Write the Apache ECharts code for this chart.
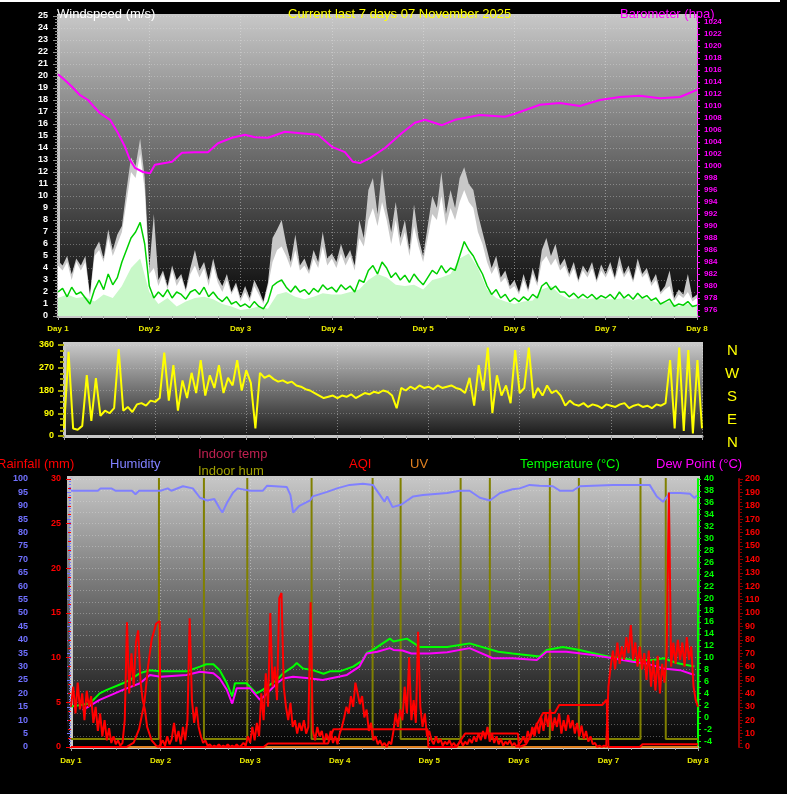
<!DOCTYPE html>
<html><head><meta charset="utf-8">
<script src="https://cdn.jsdelivr.net/npm/echarts@6/dist/echarts.min.js"></script>
<style>html,body{margin:0;padding:0;background:#000;overflow:hidden}#c{width:787px;height:794px}</style>
</head><body><div id="c"></div><script>
// ---- data (x = days since Day 1) ----
const STEP = 0.05; // wind & direction samples
const windGust = [
4.6,4.2,5.0,3.5,4.8,4.2,5.0,1.8,5.5,6.2,4.8,7.2,5.5,6.8,7.5,10.5,13.2,12.5,14.8,11.5,4.0,
8.5,3.0,3.8,2.5,4.2,3.0,3.5,2.2,4.0,5.5,3.8,4.5,3.0,4.8,3.2,2.5,3.5,2.0,2.8,1.5,
2.5,1.5,3.0,2.2,1.2,2.8,6.5,7.2,8.0,6.0,4.5,6.8,4.2,4.8,3.8,5.5,4.5,7.0,4.8,5.2,
4.5,6.0,4.8,5.5,4.2,8.0,6.5,10.5,11.5,8.5,12.3,9.0,7.0,9.5,6.5,8.0,5.5,9.3,6.5,5.0,
7.5,10.0,9.0,12.0,8.5,10.5,9.0,11.5,12.4,11.0,10.5,8.5,7.0,5.5,4.0,5.0,3.2,3.8,2.5,3.0,
2.0,3.5,2.2,4.0,2.8,5.5,6.5,5.0,6.0,4.2,4.8,3.5,4.5,3.0,4.2,3.6,4.5,3.0,4.3,3.5,
4.5,3.2,5.0,3.5,4.2,3.0,4.8,3.5,4.0,2.8,3.5,2.0,2.5,3.8,1.5,2.2,1.8,3.5,1.5,1.8];
const windWhite = [
4.2,3.8,4.5,3.0,4.5,3.8,4.5,1.5,5.0,5.5,4.5,6.5,5.0,6.0,7.0,9.5,12.0,11.5,13.5,10.5,3.5,
4.0,2.5,3.5,2.2,3.8,2.5,3.2,2.0,3.5,4.2,3.2,4.0,2.5,4.2,2.8,2.0,3.0,1.8,2.5,1.2,
2.0,1.2,2.5,1.8,1.0,2.5,4.5,5.5,5.8,5.0,4.0,5.5,3.8,4.2,3.5,4.8,4.0,5.8,4.2,4.8,
4.0,5.2,4.2,5.0,3.8,6.5,5.8,8.0,9.0,7.5,9.5,8.0,6.0,8.0,5.8,7.0,5.0,7.5,5.8,4.5,
6.5,8.5,8.0,10.0,7.5,9.0,8.0,9.5,10.5,9.5,9.0,7.0,6.0,4.5,3.5,4.2,2.8,3.2,2.2,2.5,
1.8,3.0,2.0,3.5,2.5,4.5,5.0,4.2,4.8,3.8,4.2,3.2,4.0,2.8,3.8,3.2,4.0,2.8,3.8,3.2,
4.0,3.0,4.2,3.2,3.8,2.8,4.2,3.2,3.6,2.5,3.0,1.8,2.2,2.5,1.2,1.8,1.5,2.0,1.2,1.5];
const windAvg = [
2.0,2.3,1.6,2.4,1.8,2.0,1.5,1.0,2.2,3.0,2.2,3.5,2.6,3.2,4.5,5.5,6.5,7.0,7.8,6.0,2.5,
1.5,2.0,1.6,2.2,1.5,2.0,1.8,1.4,2.0,2.2,1.8,2.4,1.6,2.0,1.5,1.2,1.6,1.0,1.2,0.8,
1.0,0.7,1.2,0.8,0.6,1.2,2.5,2.8,3.0,2.4,2.0,2.5,2.0,2.2,1.8,2.3,2.0,2.6,2.2,2.4,
2.0,2.6,2.2,2.5,2.0,3.0,2.8,3.8,4.2,3.5,4.5,4.0,3.2,3.6,3.0,3.4,2.8,3.5,3.0,2.6,
3.2,3.8,3.5,4.2,3.6,4.0,3.8,5.0,6.2,5.5,5.0,4.2,3.5,2.5,1.8,2.2,1.5,1.8,1.2,1.5,
1.2,1.6,1.3,1.8,1.5,2.5,2.8,2.2,2.5,2.0,2.0,1.6,1.9,1.5,1.8,1.5,1.8,1.4,1.7,1.5,
1.8,1.4,2.0,1.5,1.8,1.4,1.9,1.5,1.7,1.3,1.5,1.0,1.2,1.4,0.8,1.0,0.9,1.2,0.8,0.9];
const PALE_STEP = 0.1;
const windSpeed = [
1.5,1.8,1.5,1.6,1.2,1.8,1.5,2.5,4.0,4.8,2.0,
1.0,1.5,0.8,1.2,1.5,1.6,1.4,1.0,0.8,0.5,
0.6,0.8,0.6,1.8,2.0,1.6,1.4,1.6,1.9,1.8,
1.8,2.0,2.2,3.0,3.5,3.2,2.6,2.5,2.6,2.2,
3.0,3.2,3.5,4.8,5.2,4.0,2.2,1.5,1.2,1.0,
1.2,1.3,2.2,2.5,1.8,1.4,1.5,1.4,1.5,1.4,
1.4,1.5,1.3,1.5,1.3,1.0,1.2,0.8,1.0,0.8];
const baroDays = [0,0.077,0.153,0.241,0.329,0.405,0.46,0.57,0.657,0.734,0.789,0.843,0.931,1.008,1.062,1.172,1.249,1.358,1.5,1.643,1.752,1.906,2.048,2.158,2.3,2.486,2.629,2.848,3.001,3.143,3.231,3.308,3.417,3.582,3.768,3.91,4.02,4.206,4.348,4.622,4.896,5.005,5.279,5.498,5.717,5.936,6.155,6.374,6.593,6.812,7.0];
const baroHpa = [1015.3,1014.3,1013.2,1011.8,1011.0,1009.7,1008.8,1007.7,1005.5,1003.2,1001.0,999.7,999.0,998.8,1000.2,1000.5,1000.7,1002.2,1002.3,1002.3,1003.8,1004.7,1005.2,1004.8,1004.7,1005.7,1005.5,1005.2,1003.2,1002.3,1000.7,1000.5,1001.3,1003.0,1005.5,1007.2,1007.7,1006.8,1007.7,1008.5,1008.2,1008.7,1010.2,1010.5,1010.0,1011.0,1011.5,1011.7,1011.3,1011.5,1012.7];
const windDir = [
30,333,30,25,40,241,60,229,80,100,90,110,344,100,115,95,125,130,120,140,135,
150,330,140,280,100,220,150,250,170,300,160,240,190,280,170,230,200,300,180,260,
210,30,250,230,240,225,215,220,210,215,200,195,185,180,170,160,150,155,160,150,
160,155,165,150,160,170,165,175,170,180,175,160,110,190,180,195,185,200,190,195,
185,200,190,195,200,190,185,170,230,120,280,180,350,90,240,160,200,130,340,170,
190,350,150,190,160,200,170,180,160,120,140,125,120,130,115,125,120,110,125,120,
115,125,130,110,120,125,115,120,110,125,120,130,300,30,350,20,340,10,300,30];
const humDays = [0,0.3,0.33,0.45,0.5,0.68,0.72,0.76,1.0,1.08,1.12,1.25,1.36,1.44,1.52,1.6,1.66,1.69,1.74,1.81,1.86,2.0,2.14,2.19,2.41,2.45,2.48,2.55,2.67,2.7,2.86,2.97,3.11,3.26,3.37,3.45,3.5,3.53,3.59,3.69,3.82,3.93,4.2,4.34,4.45,4.565,4.676,4.79,4.93,5.01,5.12,5.23,5.38,5.46,5.6,5.68,6.05,6.46,6.54,6.61,6.685,6.8,6.91,6.96,6.99];
const humVals = [95.6,95.6,96.5,96.5,95.6,95.6,94.3,95.6,95.6,96.5,95.6,97.3,96.5,93,92,92.5,89,87.5,91,95,96.5,95.6,95.6,97.5,97,94,87.5,90,92,93.5,95.2,96.5,97.8,98.2,97.8,94,91.5,93.5,89.5,90.5,93.5,94,94.8,95.6,95.6,93,92,94.8,96.2,96.5,97.8,97.5,97.3,95.6,95.6,97.3,97.8,97.8,93.5,91.5,94.8,94.8,94.5,92.9,93.8];
const tempDays = [0,0.21,0.32,0.4,0.58,0.66,0.77,0.88,1.0,1.29,1.44,1.51,1.59,1.66,1.74,1.8,1.83,1.96,2.07,2.14,2.3,2.37,2.48,2.52,2.59,2.7,2.82,2.89,3.0,3.15,3.26,3.3,3.37,3.45,3.56,3.6,3.75,3.89,4.2,4.45,4.77,4.93,5.23,5.31,5.49,5.68,5.82,6.0,6.27,6.5,6.62,6.76,6.96];
const tempVals = [1.8,2.3,4.0,4.6,5.7,6.3,7.4,7.9,7.7,7.7,8.5,8.9,8.9,7.9,5.7,3.5,5.7,5.7,4.0,4.6,6.3,7.4,8.5,9.1,8.2,7.9,7.3,7.7,7.7,8.5,9.6,10.8,11.3,12.1,13.2,12.7,13.2,11.8,11.8,12.4,11.0,10.7,10.2,11.3,11.8,11.3,10.8,10.2,9.6,9.6,9.9,9.1,8.5];
const dewDays = [0.13,0.32,0.58,0.77,0.88,1.0,1.29,1.44,1.59,1.66,1.74,1.8,1.85,2.0,2.11,2.19,2.3,2.37,2.48,2.63,2.81,2.92,3.08,3.22,3.3,3.42,3.56,3.6,3.7,3.8,4.0,4.2,4.45,4.71,4.93,5.2,5.31,5.53,5.83,6.05,6.27,6.43,6.61,6.8,6.96];
const dewVals = [1.2,2.9,4.6,5.7,7.1,6.8,7.1,7.65,7.4,6.5,4.6,2.3,4.85,4.85,2.9,4.0,5.7,6.5,6.8,6.6,6.25,6.6,7.1,8.5,10.7,11.0,11.6,11.3,11.2,10.7,10.7,10.9,11.6,9.9,9.9,9.6,11.0,11.0,10.45,9.9,9.3,9.0,8.2,7.9,7.1];
const rainDays = [0,0.62,0.7,0.76,0.82,0.86,0.9,0.95,0.99,1.0,2.15,2.2,2.87,2.93,3.98,3.99,4.3,4.4,4.99,5.0,5.08,5.2,5.27,5.4,5.45,5.93,5.98,6.0,6.35,6.38,7.0];
const rainMm = [0,0,0.5,2,5,9,12,13.8,14.1,0,0,0.4,0.4,2.0,2.0,0,0,1.5,1.5,0,0.3,2.5,3.8,3.8,4.7,4.7,5.3,0,0,0.3,0.3];
const AQI_STEP = 0.025;
const aqi = [
30,45,25,48,28,40,20,42,30,38,18,30,12,25,8,20,5,14,3,8,2,
5,1,3,20,93,40,70,45,78,87,50,35,28,15,10,5,3,1,0,2,
5,1,8,2,6,18,4,12,2,15,5,20,96,35,18,30,15,8,3,5,
1,2,0,1,0,2,0,1,0,2,0,1,0,2,0,1,3,1,8,3,
15,5,18,8,40,20,55,30,100,45,60,35,111,115,45,30,20,33,15,20,
10,18,12,20,10,15,108,12,5,15,8,12,3,10,5,12,3,8,2,10,
15,22,30,25,38,30,48,40,32,38,22,28,12,18,5,8,2,5,1,3,
0,4,2,12,25,15,28,20,45,25,67,20,35,18,86,30,15,25,8,12,
5,2,8,3,6,1,4,2,5,1,3,0,2,5,1,4,2,6,3,8,
4,10,5,12,6,15,4,10,3,8,2,6,1,4,2,5,1,3,0,2,
4,8,3,12,6,15,8,18,10,22,12,25,15,28,12,22,15,25,10,20,
12,24,14,20,10,18,8,16,6,12,4,8,2,3,0,1,0,1,0,45,
60,72,58,78,62,75,65,82,70,91,65,78,60,75,58,70,50,72,45,65,
42,68,40,62,48,70,190,60,78,62,80,65,78,60,82,65,75,45,35,30];
const inHumDays = [0,0.982,0.982,1.484,1.484,1.968,1.968,2.686,2.686,3.367,3.367,3.68,3.68,4.35,4.35,4.676,4.676,5.346,5.346,5.67,5.67,6.358,6.358,6.64,6.64,7];
const inHumVals = [3,3,150,150,3,3,150,150,3,3,150,150,3,3,150,150,3,3,150,150,3,3,150,150,3,3];
const uvDays = [0,1,2,3,4,5,6,7];
const uvVals = [0,0,0,0,0,0,0,0];
const dayLabels = ['Day 1','Day 2','Day 3','Day 4','Day 5','Day 6','Day 7','Day 8'];

// ---- helpers ----
const seq = (arr, step) => arr.map((v, i) => [Math.round(i * step * 1000) / 1000, v]);
const zip = (xs, ys) => xs.map((x, i) => [x, ys[i]]);
const FONT = 'Liberation Sans';
const lbl = (color, size) => ({color, fontSize: size || 9, fontWeight: 'bold', fontFamily: FONT});
const grad = (c1, c2) => new echarts.graphic.LinearGradient(0, 0, 0, 1, [{offset: 0, color: c1}, {offset: 1, color: c2}]);
const dotted = (c) => ({show: true, lineStyle: {type: [1, 2], color: c, width: 1}});

const chart = echarts.init(document.getElementById('c'), null, {renderer: 'canvas'});
const xBase = (gi, showLabel, margin) => ({
  type: 'value', gridIndex: gi, min: 0, max: 7, interval: 1,
  axisLine: {show: true, lineStyle: {color: '#c8c8c8', width: 3}},
  axisTick: {show: true, length: 4, lineStyle: {color: '#a0a0a0'}},
  minorTick: {show: true, splitNumber: 4, length: 3, lineStyle: {color: '#a0a0a0'}},
  axisLabel: {show: showLabel, margin: margin || 8, formatter: v => dayLabels[v], ...lbl('#e8e800', 8)},
  splitLine: dotted('rgba(230,230,230,0.45)')
});
const text = (t, x, y, fill, size) => ({type: 'text', left: x, top: y, silent: true,
  style: {text: t, fill, font: (size || 13) + 'px "' + FONT + '"', textVerticalAlign: 'middle'}});

const option = {
  backgroundColor: '#000',
  animation: false,
  grid: [
    {left: 58, top: 16, width: 639, height: 300},
    {left: 64, top: 345, width: 638, height: 91},
    {left: 71, top: 479, width: 627, height: 268}
  ],
  xAxis: [xBase(0, true, 9), xBase(1, false), xBase(2, true, 10)],
  yAxis: [
    {type: 'value', gridIndex: 0, min: 0, max: 25, interval: 1, position: 'left',
     axisLine: {show: true, lineStyle: {color: '#c8c8c8', width: 3}},
     axisTick: {show: true, length: 5, lineStyle: {color: '#909090'}},
     minorTick: {show: true, splitNumber: 4, length: 3, lineStyle: {color: '#909090'}},
     axisLabel: {margin: 10, ...lbl('#ffffff', 9)}, splitLine: dotted('rgba(230,230,230,0.35)')},
    {type: 'value', gridIndex: 0, min: 975, max: 1025, interval: 1, position: 'right',
     axisLine: {show: true, lineStyle: {color: '#ff40ff', width: 1}},
     axisTick: {show: true, length: 3, lineStyle: {color: '#ff00ff'}},
     axisLabel: {margin: 7, formatter: v => (v % 2 === 0 ? String(v) : ''), ...lbl('#ff00ff', 8)},
     splitLine: {show: false}},
    {type: 'value', gridIndex: 1, min: 0, max: 360, interval: 90, position: 'left',
     axisLine: {show: true, lineStyle: {color: '#c8c8c8', width: 3}},
     axisTick: {show: true, length: 6, lineStyle: {color: '#a0a000', width: 2}},
     minorTick: {show: true, splitNumber: 4, length: 4, lineStyle: {color: '#a0a000', width: 2}},
     axisLabel: {margin: 10, ...lbl('#ffff00', 9)}, splitLine: dotted('rgba(230,230,230,0.3)')},
    {type: 'value', gridIndex: 2, min: 0, max: 100, interval: 5, position: 'left', offset: 39,
     axisLine: {show: true, lineStyle: {color: '#7070ff', width: 3}},
     axisTick: {show: true, length: 4, lineStyle: {color: '#7070ff'}},
     minorTick: {show: true, splitNumber: 5, length: 2, lineStyle: {color: '#7070ff'}},
     axisLabel: {margin: 4, ...lbl('#7070ff', 9)}, splitLine: {show: false}},
    {type: 'value', gridIndex: 2, min: 0, max: 30, interval: 5, position: 'left',
     axisLine: {show: true, lineStyle: {color: '#c8c8c8', width: 3}},
     axisTick: {show: true, length: 5, lineStyle: {color: '#ff0000'}},
     minorTick: {show: true, splitNumber: 5, length: 3, lineStyle: {color: '#ff0000'}},
     axisLabel: {margin: 10, ...lbl('#ff0000', 9)}, splitLine: {show: false}},
    {type: 'value', gridIndex: 2, min: -5, max: 40, interval: 1, position: 'right',
     axisLine: {show: true, lineStyle: {color: '#00ff00', width: 2}},
     axisTick: {show: true, length: 3, lineStyle: {color: '#00ff00'}},
     axisLabel: {margin: 6, formatter: v => (v % 2 === 0 ? String(v) : ''), ...lbl('#00ff00', 9)},
     splitLine: {show: false}},
    {type: 'value', gridIndex: 2, min: 0, max: 200, interval: 10, position: 'right', offset: 41,
     axisLine: {show: true, lineStyle: {color: '#900000', width: 2}},
     axisTick: {show: true, length: 4, lineStyle: {color: '#900000'}},
     minorTick: {show: true, splitNumber: 4, length: 3, lineStyle: {color: '#900000'}},
     axisLabel: {margin: 6, ...lbl('#ff0000', 9)}, splitLine: {show: false}},
    {type: 'value', gridIndex: 2, min: 0, max: 24, interval: 1, position: 'right',
     axisLine: {show: false}, axisTick: {show: false}, axisLabel: {show: false},
     splitLine: dotted('rgba(230,230,230,0.35)')}
  ],
  graphic: [
    {type: 'rect', shape: {x: 0, y: 0, width: 780, height: 2}, style: {fill: '#ffffff'}, silent: true},
    {type: 'rect', z: -10, shape: {x: 57, y: 14, width: 641, height: 303}, style: {fill: grad('#c8c8c8', '#000000')}, silent: true},
    {type: 'rect', z: -10, shape: {x: 63, y: 342, width: 640, height: 95}, style: {fill: grad('#cccccc', '#181818')}, silent: true},
    {type: 'rect', z: -10, shape: {x: 67, y: 476, width: 633, height: 272}, style: {fill: grad('#c8c8c8', '#000000')}, silent: true},
    text('Windspeed (m/s)', 57, 8, '#ffffff'),
    text('Current last 7 days 07 November 2025', 288, 8, '#ffff00'),
    text('Barometer (hpa)', 620, 8, '#ff00ff'),
    text('N', 727, 343, '#ffff00', 15), text('W', 725, 366, '#ffff00', 15), text('S', 727, 389, '#ffff00', 15),
    text('E', 727, 412, '#ffff00', 15), text('N', 727, 435, '#ffff00', 15),
    text('Rainfall (mm)', -3, 458, '#ff0000'),
    text('Humidity', 110, 458, '#8080ff'),
    text('Indoor temp', 198, 448, '#c02050'),
    text('Indoor hum', 198, 465, '#a0a000'),
    text('AQI', 349, 458, '#ff0000'),
    text('UV', 410, 458, '#e08020'),
    text('Temperature (\u00B0C)', 520, 458, '#00ff00'),
    text('Dew Point (\u00B0C)', 656, 458, '#ff00ff')
  ],
  series: [
    {name: 'Gust', type: 'line', xAxisIndex: 0, yAxisIndex: 0, data: seq(windGust, STEP), showSymbol: false,
     lineStyle: {width: 0}, areaStyle: {color: '#c8c8c8', opacity: 1}, z: 2},
    {name: 'Wind', type: 'line', xAxisIndex: 0, yAxisIndex: 0, data: seq(windWhite, STEP), showSymbol: false,
     lineStyle: {width: 0}, areaStyle: {color: '#ffffff', opacity: 1}, z: 3},
    {name: 'Speed', type: 'line', xAxisIndex: 0, yAxisIndex: 0, data: seq(windSpeed, PALE_STEP), showSymbol: false,
     lineStyle: {width: 0}, areaStyle: {color: '#c8f8c8', opacity: 1}, z: 4},
    {name: 'Avg', type: 'line', xAxisIndex: 0, yAxisIndex: 0, data: seq(windAvg, STEP), showSymbol: false,
     lineStyle: {width: 1.5, color: '#00d000'}, z: 5},
    {name: 'Barometer', type: 'line', xAxisIndex: 0, yAxisIndex: 1, data: zip(baroDays, baroHpa), showSymbol: false,
     lineStyle: {width: 2, color: '#ff00ff'}, z: 6},
    {name: 'Direction', type: 'line', xAxisIndex: 1, yAxisIndex: 2, data: seq(windDir, STEP), showSymbol: false,
     lineStyle: {width: 2, color: '#ffff00'}, z: 5},
    {name: 'Indoor hum', type: 'line', xAxisIndex: 2, yAxisIndex: 3, data: zip(inHumDays, inHumVals), showSymbol: false,
     lineStyle: {width: 2, color: '#808000'}, z: 3},
    {name: 'UV', type: 'line', xAxisIndex: 2, yAxisIndex: 4, data: zip(uvDays, uvVals), showSymbol: false,
     lineStyle: {width: 2, color: '#e08020'}, z: 3},
    {name: 'Humidity', type: 'line', xAxisIndex: 2, yAxisIndex: 3, data: zip(humDays, humVals), showSymbol: false,
     lineStyle: {width: 2, color: '#8080ff'}, z: 4},
    {name: 'Temperature', type: 'line', xAxisIndex: 2, yAxisIndex: 5, data: zip(tempDays, tempVals), showSymbol: false,
     lineStyle: {width: 2, color: '#00ff00'}, z: 4},
    {name: 'Dew Point', type: 'line', xAxisIndex: 2, yAxisIndex: 5, data: zip(dewDays, dewVals), showSymbol: false,
     lineStyle: {width: 2, color: '#ff00ff'}, z: 4},
    {name: 'Rainfall', type: 'line', xAxisIndex: 2, yAxisIndex: 4, data: zip(rainDays, rainMm), showSymbol: false,
     lineStyle: {width: 2, color: '#ff0000'}, z: 5},
    {name: 'AQI', type: 'line', xAxisIndex: 2, yAxisIndex: 6, data: seq(aqi, AQI_STEP), showSymbol: false,
     lineStyle: {width: 2, color: '#ff0000'}, z: 6}
  ]
};
chart.setOption(option);
</script></body></html>
